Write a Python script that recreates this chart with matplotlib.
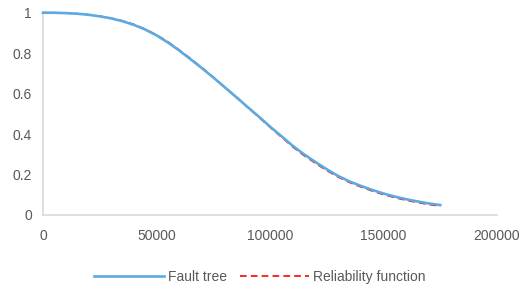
import numpy as np
import matplotlib
matplotlib.use("Agg")
import matplotlib.pyplot as plt

# time (hours) and reliability values
t = [0, 5000, 10000, 15000, 20000, 25000, 30000, 35000, 40000, 45000,
     50000, 55000, 60000, 65000, 70000, 75000, 80000, 85000, 90000, 95000,
     100000, 105000, 110000, 115000, 120000, 125000, 130000, 135000, 140000,
     145000, 150000, 155000, 160000, 165000, 170000, 175000]

fault_tree = [1.000, 0.9998, 0.998, 0.995, 0.990, 0.982, 0.972, 0.958, 0.940, 0.917,
              0.888, 0.853, 0.813, 0.770, 0.726, 0.680, 0.632, 0.584, 0.535, 0.487,
              0.437, 0.390, 0.342, 0.300, 0.262, 0.226, 0.193, 0.166, 0.144,
              0.124, 0.106, 0.091, 0.078, 0.067, 0.057, 0.049]

reliability = [1.000, 0.9998, 0.998, 0.995, 0.990, 0.983, 0.973, 0.960, 0.942, 0.919,
               0.890, 0.856, 0.816, 0.773, 0.728, 0.681, 0.633, 0.584, 0.534, 0.485,
               0.434, 0.386, 0.337, 0.294, 0.256, 0.220, 0.188, 0.161, 0.139,
               0.119, 0.101, 0.086, 0.073, 0.062, 0.052, 0.044]

x_ticks = [0, 50000, 100000, 150000, 200000]
y_ticks = [0, 0.2, 0.4, 0.6, 0.8, 1]
y_labels = ["0", "0.2", "0.4", "0.6", "0.8", "1"]

plt.rcParams['font.family'] = ['Liberation Sans', 'DejaVu Sans']

fig = plt.figure(figsize=(5.2, 2.88), dpi=100)
ax = fig.add_axes([43 / 520, 73 / 288, 454 / 520, 202.3 / 288])

ax.plot(t, reliability, color="#FF0000", lw=1.2, ls=(0, (4, 2.5)),
        label="Reliability function", zorder=2, clip_on=False)
ax.plot(t, fault_tree, color="#5DA9E1", lw=1.9, label="Fault tree",
        zorder=3, clip_on=False)

ax.set_xlim(0, 200000)
ax.set_ylim(0, 1)
ax.set_xticks(x_ticks)
ax.set_xticklabels([str(v) for v in x_ticks])
ax.set_yticks(y_ticks)
ax.set_yticklabels(y_labels)
ax.tick_params(length=0, labelsize=10, labelcolor="#595959")
ax.tick_params(axis="x", pad=10)
ax.tick_params(axis="y", pad=8)

for s in ["top", "right"]:
    ax.spines[s].set_visible(False)
for s in ["left", "bottom"]:
    ax.spines[s].set_color("#D9D9D9")
    ax.spines[s].set_linewidth(1.2)

handles, labels = ax.get_legend_handles_labels()
fig.legend(handles[::-1], labels[::-1], loc="center", bbox_to_anchor=(0.5, 11 / 288),
           ncol=2, frameon=False, fontsize=10, handlelength=5, handletextpad=0.3,
           columnspacing=0.9, labelcolor="#595959")

fig.savefig("out.png", dpi=100)
